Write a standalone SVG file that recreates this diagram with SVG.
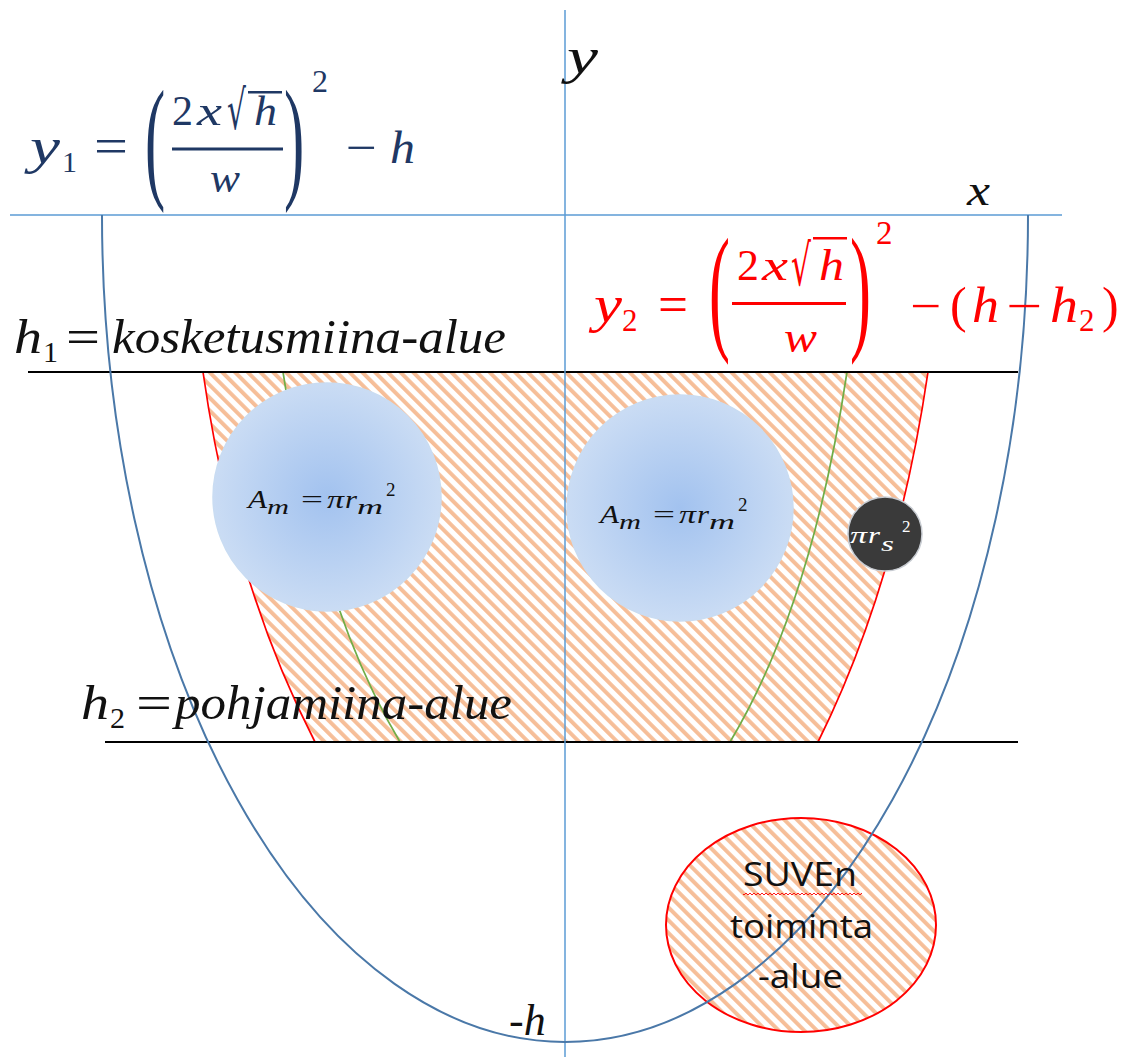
<svg xmlns="http://www.w3.org/2000/svg" width="1136" height="1057" viewBox="0 0 1136 1057">
<style>
.mi{font-family:"Liberation Serif","DejaVu Serif",serif;font-style:italic}
.mr{font-family:"Liberation Serif","DejaVu Serif",serif}
.rad{font-family:"DejaVu Sans","Liberation Sans",sans-serif}
.sans{font-family:"Open Sans","Liberation Sans",sans-serif}
.navy{fill:#1F3864}
.red{fill:#FF0000}
.blk{fill:#111111}
.axis{stroke:#5B9BD5;stroke-width:1.5;fill:none}
.hline{stroke:#000000;stroke-width:1.8;fill:none}
.redc{stroke:#FF0000;stroke-width:1.7;fill:none}
.grnc{stroke:#70AD47;stroke-width:1.7;fill:none}
.bigc{fill:url(#blueGrad);stroke:#C9DCF2;stroke-width:1.5}
</style>
<defs>
<pattern id="hatch" width="9" height="9" patternUnits="userSpaceOnUse" patternTransform="rotate(-45)">
<rect width="9" height="9" fill="#ffffff"/>
<rect width="3.9" height="9" fill="#F6BE98"/>
</pattern>
<pattern id="squig" width="4" height="4" patternUnits="userSpaceOnUse">
<path d="M0 3 L2 1 L4 3" stroke="#FF0000" stroke-width="0.9" fill="none"/>
</pattern>
<radialGradient id="blueGrad" cx="50%" cy="50%" r="50%">
<stop offset="0" stop-color="#A2C2EF"/>
<stop offset="1" stop-color="#CADCF4"/>
</radialGradient>
</defs>
<rect width="1136" height="1057" fill="#ffffff"/>

<g id="hatched-zone">
<path d="M203 372 L928 372 Q897 583 818 742 L315 742 Q233 583 203 372 Z" fill="url(#hatch)"/>
</g>

<g id="connectors">
<path class="redc" d="M203 372 Q233 583 315 742"/>
<path class="redc" d="M928 372 Q897 583 818 742"/>
<path class="grnc" d="M283 372 Q318 605 400 742"/>
<path class="grnc" d="M847 372 Q812 605 730 742"/>
</g>

<g id="circle-left">
<circle class="bigc" cx="327" cy="497" r="114"/>
<text class="mi blk" x="248" y="508" font-size="26" textLength="19" lengthAdjust="spacingAndGlyphs">A</text>
<text class="mi blk" x="267" y="514" font-size="22" textLength="22" lengthAdjust="spacingAndGlyphs">m</text>
<text class="mr blk" x="301" y="508" font-size="26" textLength="22" lengthAdjust="spacingAndGlyphs">=</text>
<text class="mi blk" x="327" y="508" font-size="26" textLength="17" lengthAdjust="spacingAndGlyphs">π</text>
<text class="mi blk" x="345" y="508" font-size="26" textLength="12" lengthAdjust="spacingAndGlyphs">r</text>
<text class="mi blk" x="357" y="514" font-size="22" textLength="26" lengthAdjust="spacingAndGlyphs">m</text>
<text class="mr blk" x="386" y="496" font-size="19">2</text>
</g>

<g id="circle-right">
<circle class="bigc" cx="680" cy="508" r="113"/>
<g transform="translate(352,15)">
<text class="mi blk" x="248" y="508" font-size="26" textLength="19" lengthAdjust="spacingAndGlyphs">A</text>
<text class="mi blk" x="267" y="514" font-size="22" textLength="22" lengthAdjust="spacingAndGlyphs">m</text>
<text class="mr blk" x="301" y="508" font-size="26" textLength="22" lengthAdjust="spacingAndGlyphs">=</text>
<text class="mi blk" x="327" y="508" font-size="26" textLength="17" lengthAdjust="spacingAndGlyphs">π</text>
<text class="mi blk" x="345" y="508" font-size="26" textLength="12" lengthAdjust="spacingAndGlyphs">r</text>
<text class="mi blk" x="357" y="514" font-size="22" textLength="26" lengthAdjust="spacingAndGlyphs">m</text>
<text class="mr blk" x="386" y="496" font-size="19">2</text>
</g>
</g>

<g id="small-circle">
<circle cx="885" cy="534" r="37" fill="#3A3A3A" stroke="#C8CCD2" stroke-width="1.5"/>
<text class="mi" fill="#ffffff" x="850" y="543" font-size="24" textLength="17" lengthAdjust="spacingAndGlyphs">π</text>
<text class="mi" fill="#ffffff" x="868" y="543" font-size="24" textLength="12" lengthAdjust="spacingAndGlyphs">r</text>
<text class="mi" fill="#ffffff" x="881" y="551" font-size="20" textLength="13" lengthAdjust="spacingAndGlyphs">s</text>
<text class="mr" fill="#ffffff" x="902" y="532" font-size="17">2</text>
</g>

<g id="levels">
<line class="hline" x1="28" y1="372" x2="1018" y2="372"/>
<line class="hline" x1="105" y1="742" x2="1018" y2="742"/>
</g>

<g id="axes">
<line class="axis" x1="565" y1="10" x2="565" y2="1057"/>
<line class="axis" x1="10" y1="215" x2="1062" y2="215"/>
</g>

<g id="suven">
<ellipse cx="801" cy="925" rx="135" ry="107" fill="url(#hatch)" stroke="#FF0000" stroke-width="2"/>
</g>

<g id="outer-curve">
<path d="M102 215 A463 827 0 0 0 1028 215" fill="none" stroke="#4A78A8" stroke-width="2"/>
</g>

<g id="suven-label">
<text class="sans blk" x="743" y="886" font-size="33" textLength="114" lengthAdjust="spacingAndGlyphs">SUVEn</text>
<rect x="743" y="892" width="119" height="4" fill="url(#squig)"/>
<text class="sans blk" x="730" y="938" font-size="33" textLength="143" lengthAdjust="spacingAndGlyphs">toiminta</text>
<text class="sans blk" x="758" y="988" font-size="33" textLength="85" lengthAdjust="spacingAndGlyphs">-alue</text>
</g>

<g id="axis-labels">
<text class="mi blk" x="567" y="73" font-size="50" textLength="31" lengthAdjust="spacingAndGlyphs">y</text>
<text class="mi blk" x="967" y="205" font-size="44" textLength="23" lengthAdjust="spacingAndGlyphs">x</text>
<text class="mi blk" x="509" y="1035" font-size="44">-h</text>
</g>

<g id="label-h1">
<text class="mi blk" x="14" y="353" font-size="48" textLength="28" lengthAdjust="spacingAndGlyphs">h</text>
<text class="mr blk" x="43" y="362" font-size="30">1</text>
<text class="mr blk" x="66" y="353" font-size="48" textLength="34" lengthAdjust="spacingAndGlyphs">=</text>
<text class="mi blk" x="112" y="353" font-size="48" textLength="394" lengthAdjust="spacingAndGlyphs">kosketusmiina-alue</text>
</g>

<g id="label-h2">
<text class="mi blk" x="81" y="719" font-size="48" textLength="28" lengthAdjust="spacingAndGlyphs">h</text>
<text class="mr blk" x="110" y="728" font-size="30">2</text>
<text class="mr blk" x="136" y="719" font-size="48" textLength="36" lengthAdjust="spacingAndGlyphs">=</text>
<text class="mi blk" x="175" y="719" font-size="48" textLength="337" lengthAdjust="spacingAndGlyphs">pohjamiina-alue</text>
</g>

<g id="formula-y1" class="navy">
<text class="mi" x="30" y="163" font-size="50" textLength="30" lengthAdjust="spacingAndGlyphs">y</text>
<text class="mr" x="62" y="172" font-size="30">1</text>
<text class="mr" x="94" y="163" font-size="50" textLength="34" lengthAdjust="spacingAndGlyphs">=</text>
<text class="mr" font-size="135" transform="translate(145,184) scale(0.45,1)">(</text>
<text class="mr" x="172" y="125" font-size="42">2</text>
<text class="mi" x="197" y="125" font-size="42" textLength="25" lengthAdjust="spacingAndGlyphs">x</text>
<text class="rad" font-size="54" transform="translate(227,129) scale(0.55,1)">√</text>
<rect x="248" y="91" width="34" height="2.5"/>
<text class="mi" x="254" y="125" font-size="42" textLength="23" lengthAdjust="spacingAndGlyphs">h</text>
<rect x="172" y="147.5" width="111" height="3"/>
<text class="mi" x="210" y="192" font-size="42" textLength="30" lengthAdjust="spacingAndGlyphs">w</text>
<text class="mr" font-size="135" transform="translate(284,184) scale(0.45,1)">)</text>
<text class="mr" x="312" y="92" font-size="32">2</text>
<text class="mr" x="346" y="163" font-size="46" textLength="31" lengthAdjust="spacingAndGlyphs">−</text>
<text class="mi" x="390" y="163" font-size="46" textLength="25" lengthAdjust="spacingAndGlyphs">h</text>
</g>

<g id="formula-y2" class="red">
<text class="mi" x="594" y="322" font-size="52" textLength="28" lengthAdjust="spacingAndGlyphs">y</text>
<text class="mr" x="622" y="331" font-size="31">2</text>
<text class="mr" x="658" y="322" font-size="52" textLength="30" lengthAdjust="spacingAndGlyphs">=</text>
<text class="mr" font-size="140" transform="translate(709,335) scale(0.45,1)">(</text>
<text class="mr" x="737" y="280" font-size="44">2</text>
<text class="mi" x="762" y="280" font-size="44" textLength="26" lengthAdjust="spacingAndGlyphs">x</text>
<text class="rad" font-size="57" transform="translate(791,285) scale(0.55,1)">√</text>
<rect x="813" y="237" width="34" height="2.5"/>
<text class="mi" x="819" y="280" font-size="44" textLength="25" lengthAdjust="spacingAndGlyphs">h</text>
<rect x="732" y="302" width="114" height="3"/>
<text class="mi" x="784" y="352" font-size="44" textLength="33" lengthAdjust="spacingAndGlyphs">w</text>
<text class="mr" font-size="140" transform="translate(850,335) scale(0.45,1)">)</text>
<text class="mr" x="876" y="244" font-size="33">2</text>
<text class="mr" x="910" y="322" font-size="48" textLength="31" lengthAdjust="spacingAndGlyphs">−</text>
<text class="mr" x="950" y="322" font-size="50">(</text>
<text class="mi" x="972" y="322" font-size="50" textLength="27" lengthAdjust="spacingAndGlyphs">h</text>
<text class="mr" x="1006" y="322" font-size="48" textLength="36" lengthAdjust="spacingAndGlyphs">−</text>
<text class="mi" x="1050" y="322" font-size="50" textLength="28" lengthAdjust="spacingAndGlyphs">h</text>
<text class="mr" x="1079" y="331" font-size="31">2</text>
<text class="mr" x="1102" y="322" font-size="50">)</text>
</g>
</svg>
